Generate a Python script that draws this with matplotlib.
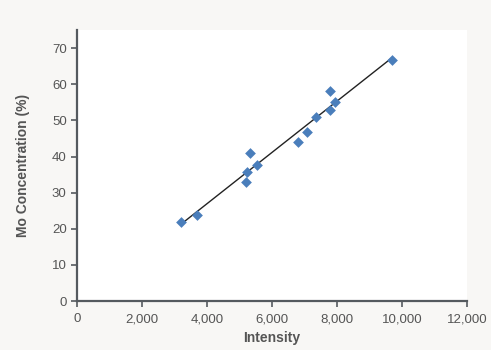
import numpy as np
import matplotlib.pyplot as plt

# Data
intensity = [3200, 3700, 5200, 5230, 5320, 5540, 6800, 7080, 7350, 7780, 7780, 7940, 9690]
mo_conc = [21.9, 23.8, 32.9, 35.6, 41.0, 37.6, 44.0, 46.9, 50.9, 53.0, 58.1, 55.1, 66.7]

x_ticks = [0, 2000, 4000, 6000, 8000, 10000, 12000]
y_ticks = [0, 10, 20, 30, 40, 50, 60, 70]

plt.rcParams['font.family'] = ['Liberation Sans', 'DejaVu Sans']

fig = plt.figure(figsize=(4.91, 3.5), dpi=100)
fig.patch.set_facecolor('#f8f7f5')
ax = fig.add_axes([0.157, 0.14, 0.794, 0.774])
ax.set_facecolor('white')

# trend line from a least squares fit
slope, intercept = np.polyfit(intensity, mo_conc, 1)
xl = np.array([min(intensity), max(intensity)])
ax.plot(xl, slope * xl + intercept, color='#222222', lw=1.0, zorder=2)

ax.scatter(intensity, mo_conc, marker='D', s=30, color='#4a7ebb', zorder=3, linewidths=0)

ax.set_xlim(0, 12000)
ax.set_ylim(0, 75)
ax.set_xticks(x_ticks)
ax.set_xticklabels([f"{v:,}" for v in x_ticks])
ax.set_yticks(y_ticks)

gray = '#555a5f'
for side in ['top', 'right']:
    ax.spines[side].set_visible(False)
for side in ['left', 'bottom']:
    ax.spines[side].set_color(gray)
    ax.spines[side].set_linewidth(1.6)
ax.tick_params(colors=gray, labelsize=9.5, length=4, width=1.2, labelcolor='#555555')
ax.tick_params(axis='x', pad=5)

ax.set_xlabel("Intensity", fontsize=10, fontweight='bold', color='#555555', labelpad=4)
ax.set_ylabel("Mo Concentration (%)", fontsize=10, fontweight='bold', color='#555555', labelpad=16)

fig.savefig("out.png", dpi=100, facecolor=fig.get_facecolor())
